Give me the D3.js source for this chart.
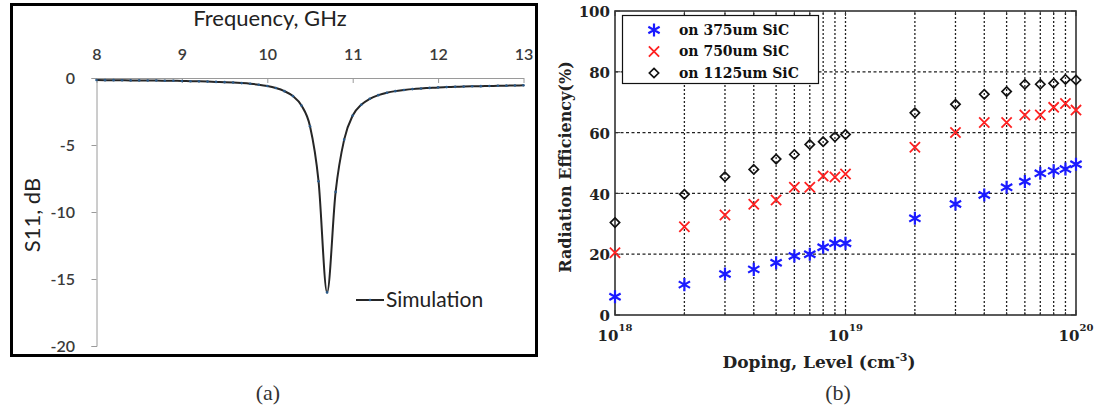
<!DOCTYPE html>
<html>
<head>
<meta charset="utf-8">
<script src="https://cdn.jsdelivr.net/npm/d3@7"></script>
<style>
  body { margin: 0; background: #fff; }
  svg { display: block; }
</style>
</head>
<body>
<div id="chart"></div>
<script>
// ---- panel (a) : S11 vs frequency
const freqGHz = [8.0, 8.1, 8.2, 8.3, 8.4, 8.5, 8.6, 8.7, 8.8, 8.9,
                 9.0, 9.1, 9.2, 9.3, 9.4, 9.5, 9.6, 9.7, 9.8, 9.9,
                 10.0, 10.1, 10.2, 10.3, 10.4, 10.5, 10.6, 10.7, 10.8, 10.9,
                 11.0, 11.1, 11.2, 11.3, 11.4, 11.5, 11.6, 11.7, 11.8, 11.9,
                 12.0, 12.1, 12.2, 12.3, 12.4, 12.5, 12.6, 12.7, 12.8, 12.9, 13.0];
const s11dB = [-0.15, -0.16, -0.16, -0.17, -0.18, -0.18, -0.19, -0.19, -0.20, -0.21,
               -0.22, -0.24, -0.25, -0.27, -0.29, -0.31, -0.34, -0.38, -0.43, -0.50,
               -0.60, -0.75, -0.98, -1.35, -2.05, -3.6, -7.7, -16.0, -8.5, -4.6,
               -2.8, -2.0, -1.55, -1.28, -1.1, -0.98, -0.9, -0.83, -0.78, -0.74,
               -0.70, -0.68, -0.66, -0.64, -0.62, -0.61, -0.60, -0.58, -0.57, -0.56, -0.55];
const freqTicks = [8, 9, 10, 11, 12, 13];
const s11Ticks = [0, -5, -10, -15, -20];

// ---- panel (b) : radiation efficiency vs doping
const dopingLevels = [1e18, 2e18, 3e18, 4e18, 5e18, 6e18, 7e18, 8e18, 9e18,
                      1e19, 2e19, 3e19, 4e19, 5e19, 6e19, 7e19, 8e19, 9e19, 1e20];
const eff375 = [6, 10, 13.5, 15, 17.2, 19.4, 20, 22.3, 23.6,
                23.6, 31.8, 36.5, 39.5, 42, 43.9, 46.6, 47.4, 48, 49.6];
const eff750 = [20.5, 29, 32.9, 36.4, 37.8, 42, 42, 45.7, 45.4,
                46.4, 55.2, 60, 63.3, 63.3, 65.8, 65.8, 68.3, 69.6, 67.4];
const eff1125 = [30.4, 39.7, 45.5, 47.9, 51.3, 52.8, 56.1, 57, 58.6,
                 59.4, 66.5, 69.3, 72.6, 73.5, 75.9, 75.9, 76.2, 77.5, 77.3];
const effTicks = [0, 20, 40, 60, 80, 100];
const decadeTicks = [1e18, 1e19, 1e20];
const decadeExp = ["18", "19", "20"];
const seriesNames = ["on 375um  SiC", "on 750um  SiC", "on 1125um  SiC"];

const width = 1102, height = 410;
const svg = d3.select("#chart").append("svg")
    .attr("width", width)
    .attr("height", height);

// ================= panel (a) =================
const fontA = "Lato, 'Open Sans', sans-serif";
const xA = d3.scaleLinear().domain([8, 13]).range([96.5, 523.5]);
const yA = d3.scaleLinear().domain([0, -20]).range([78, 346]);

// cadre noir
svg.append("rect")
    .attr("x", 11.5).attr("y", 4.5)
    .attr("width", 525).attr("height", 351)
    .attr("fill", "none").attr("stroke", "#000").attr("stroke-width", 3);

// axe du haut
svg.append("g")
    .attr("transform", `translate(0,${yA(0)})`)
    .call(d3.axisTop(xA).tickValues(freqTicks).tickSizeInner(-5).tickSizeOuter(0).tickFormat(d3.format("d")))
    .call(g => g.select(".domain").attr("stroke", "#9a9a9a"))
    .call(g => g.selectAll(".tick line").attr("stroke", "#9a9a9a"))
    .call(g => g.selectAll("text")
        .attr("y", -24).attr("dy", "0.35em")
        .style("font-family", fontA).style("font-size", "16px").style("font-weight", "600")
        .attr("fill", "#3a3a3a"));

// axe de gauche
svg.append("g")
    .attr("transform", `translate(${xA(8)},0)`)
    .call(d3.axisLeft(yA).tickValues(s11Ticks).tickSize(5).tickPadding(16.5).tickFormat(d => String(d)))
    .call(g => g.select(".domain").attr("stroke", "#9a9a9a"))
    .call(g => g.selectAll(".tick line").attr("stroke", "#9a9a9a"))
    .call(g => g.selectAll("text")
        .style("font-family", fontA).style("font-size", "16px").style("font-weight", "600")
        .attr("fill", "#3a3a3a"));

const s11Data = freqGHz.map((f, i) => ({ f: f, v: s11dB[i] }));

svg.append("path")
    .datum(s11Data)
    .attr("fill", "none")
    .attr("stroke", "#262626")
    .attr("stroke-width", 2)
    .attr("d", d3.line().x(d => xA(d.f)).y(d => yA(d.v)).curve(d3.curveMonotoneX));

svg.selectAll(".s11-pt")
    .data(s11Data)
    .enter()
    .append("circle")
    .attr("class", "s11-pt")
    .attr("cx", d => xA(d.f))
    .attr("cy", d => yA(d.v))
    .attr("r", 1.3)
    .attr("fill", "#2a5a8a");

// titres
svg.append("text")
    .attr("x", 270).attr("y", 18).attr("dy", "0.35em")
    .attr("text-anchor", "middle")
    .style("font-family", fontA).style("font-size", "22px").attr("fill", "#222")
    .text("Frequency, GHz");

svg.append("text")
    .attr("transform", "translate(32,215) rotate(-90)")
    .attr("dy", "0.35em")
    .attr("text-anchor", "middle")
    .style("font-family", fontA).style("font-size", "22px").attr("fill", "#222")
    .text("S11, dB");

// légende
svg.append("line")
    .attr("x1", 356).attr("x2", 384).attr("y1", 300).attr("y2", 300)
    .attr("stroke", "#262626").attr("stroke-width", 2);
svg.append("circle").attr("cx", 370).attr("cy", 300).attr("r", 1.3).attr("fill", "#2a5a8a");
svg.append("text")
    .attr("x", 386).attr("y", 300).attr("dy", "0.35em")
    .style("font-family", fontA).style("font-size", "21px").attr("fill", "#222")
    .text("Simulation");

// ================= panel (b) =================
const fontB = "'DejaVu Serif', 'Liberation Serif', serif";
const xB = d3.scaleLog().domain([1e18, 1e20]).range([615, 1076]);
const yB = d3.scaleLinear().domain([0, 100]).range([315, 11]);

// grille horizontale
svg.selectAll(".hgrid")
    .data(effTicks.slice(1, -1))
    .enter()
    .append("line")
    .attr("class", "hgrid")
    .attr("x1", xB(1e18)).attr("x2", xB(1e20))
    .attr("y1", d => yB(d)).attr("y2", d => yB(d))
    .attr("stroke", "#222").attr("stroke-width", 1.3)
    .attr("stroke-dasharray", "3,2.5");

// grille verticale
svg.selectAll(".vgrid")
    .data(dopingLevels.slice(1, -1))
    .enter()
    .append("line")
    .attr("class", "vgrid")
    .attr("x1", d => xB(d)).attr("x2", d => xB(d))
    .attr("y1", yB(0)).attr("y2", yB(100))
    .attr("stroke", "#222").attr("stroke-width", 1.3)
    .attr("stroke-dasharray", "2,2");

// graduations intérieures
effTicks.forEach(t => {
    svg.append("line").attr("x1", xB(1e18)).attr("x2", xB(1e18) + 5)
        .attr("y1", yB(t)).attr("y2", yB(t)).attr("stroke", "#333");
    svg.append("line").attr("x1", xB(1e20)).attr("x2", xB(1e20) - 5)
        .attr("y1", yB(t)).attr("y2", yB(t)).attr("stroke", "#333");
});
dopingLevels.forEach(t => {
    const len = decadeTicks.includes(t) ? 5 : 3;
    svg.append("line").attr("x1", xB(t)).attr("x2", xB(t))
        .attr("y1", yB(0)).attr("y2", yB(0) - len).attr("stroke", "#333");
    svg.append("line").attr("x1", xB(t)).attr("x2", xB(t))
        .attr("y1", yB(100)).attr("y2", yB(100) + len).attr("stroke", "#333");
});

// cadre des axes
svg.append("rect")
    .attr("x", xB(1e18)).attr("y", yB(100))
    .attr("width", xB(1e20) - xB(1e18)).attr("height", yB(0) - yB(100))
    .attr("fill", "none").attr("stroke", "#333").attr("stroke-width", 1.6);

// étiquettes y
svg.selectAll(".ylab-b")
    .data(effTicks)
    .enter()
    .append("text")
    .attr("class", "ylab-b")
    .attr("x", 610)
    .attr("y", d => yB(d) + 1)
    .attr("dy", "0.35em")
    .attr("text-anchor", "end")
    .style("font-family", fontB).style("font-size", "15px").style("font-weight", "bold")
    .attr("fill", "#222")
    .text(d => d);

// étiquettes x (10^n)
const xlab = svg.selectAll(".xlab-b")
    .data(decadeTicks)
    .enter()
    .append("text")
    .attr("class", "xlab-b")
    .attr("x", d => xB(d))
    .attr("y", 341)
    .attr("text-anchor", "middle")
    .style("font-family", fontB).style("font-weight", "bold").attr("fill", "#222");
xlab.append("tspan").style("font-size", "15px").text("10");
xlab.append("tspan").style("font-size", "10px").attr("dy", -10).text((d, i) => decadeExp[i]);

// titres des axes
const xt = svg.append("text")
    .attr("x", 819).attr("y", 368)
    .attr("text-anchor", "middle")
    .style("font-family", fontB).style("font-size", "17px").style("font-weight", "bold")
    .attr("fill", "#222");
xt.append("tspan").text("Doping, Level (cm");
xt.append("tspan").style("font-size", "11px").attr("dy", -7).text("-3");
xt.append("tspan").attr("dy", 7).text(")");

svg.append("text")
    .attr("transform", "translate(565,167) rotate(-90)")
    .attr("dy", "0.35em")
    .attr("text-anchor", "middle")
    .style("font-family", fontB).style("font-size", "16px").style("font-weight", "bold")
    .attr("fill", "#222")
    .text("Radiation Efficiency(%)");

// séries
const asterisk = d3.symbolAsterisk || d3.symbolCross;
const seriesDefs = [
    { values: eff375, shape: asterisk, size: 120, color: "#1a1aff", sw: 2.2 },
    { values: eff750, shape: d3.symbolX, size: 70, color: "#ff2020", sw: 1.8 },
    { values: eff1125, shape: d3.symbolDiamond2, size: 55, color: "#111", sw: 1.7 }
];

seriesDefs.forEach((s, k) => {
    svg.selectAll(".pt-" + k)
        .data(s.values.map((v, i) => ({ x: dopingLevels[i], y: v })))
        .enter()
        .append("path")
        .attr("class", "pt-" + k)
        .attr("transform", d => `translate(${xB(d.x)},${yB(d.y)})`)
        .attr("d", d3.symbol(s.shape, s.size)())
        .attr("fill", "none")
        .attr("stroke", s.color)
        .attr("stroke-width", s.sw);
});

// légende
svg.append("rect")
    .attr("x", 622.5).attr("y", 15.5)
    .attr("width", 196).attr("height", 68)
    .attr("fill", "#fff").attr("stroke", "#111").attr("stroke-width", 1.2);

const legY = [30, 51.5, 73];
seriesDefs.forEach((s, k) => {
    svg.append("path")
        .attr("transform", `translate(654,${legY[k]})`)
        .attr("d", d3.symbol(s.shape, s.size)())
        .attr("fill", "none")
        .attr("stroke", s.color)
        .attr("stroke-width", s.sw);
    svg.append("text")
        .attr("x", 679).attr("y", legY[k]).attr("dy", "0.35em")
        .style("font-family", fontB).style("font-size", "14px").style("font-weight", "bold")
        .attr("fill", "#111")
        .text(seriesNames[k]);
});

// légendes (a) et (b)
svg.selectAll(".caption")
    .data([{ x: 268, t: "(a)" }, { x: 838, t: "(b)" }])
    .enter()
    .append("text")
    .attr("class", "caption")
    .attr("x", d => d.x).attr("y", 392).attr("dy", "0.35em")
    .attr("text-anchor", "middle")
    .style("font-family", "'Liberation Serif', serif").style("font-size", "22px")
    .attr("fill", "#333")
    .text(d => d.t);
</script>
</body>
</html>
